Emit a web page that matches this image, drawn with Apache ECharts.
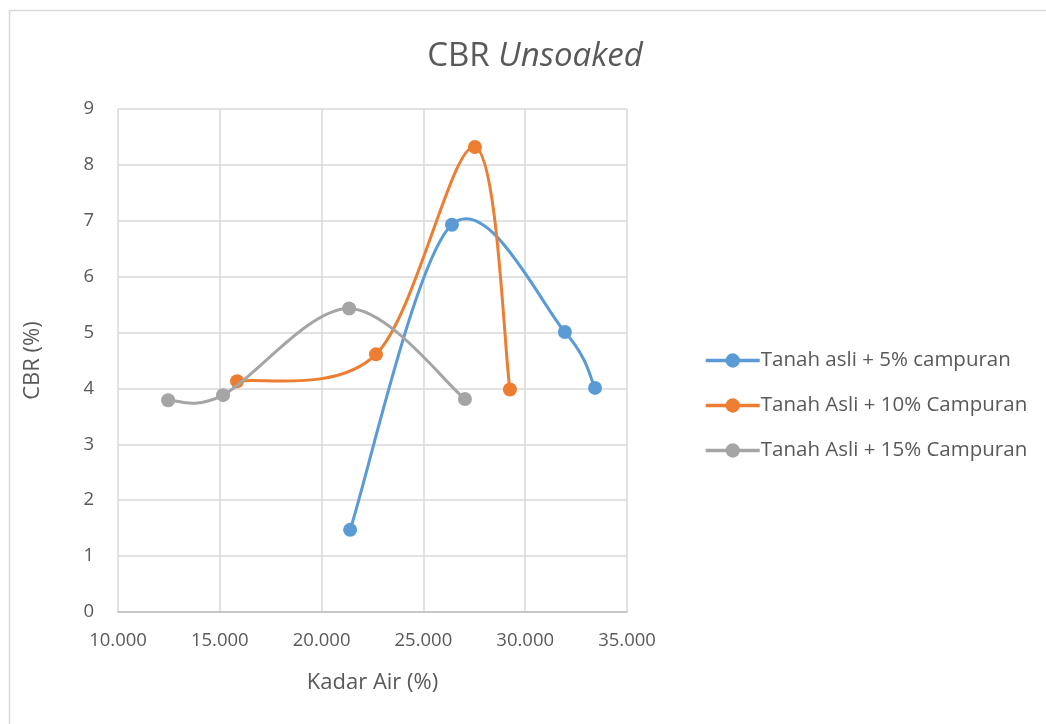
<!DOCTYPE html>
<html>
<head>
<meta charset="utf-8">
<script src="https://cdn.jsdelivr.net/npm/echarts@6/dist/echarts.min.js"></script>
<style>
  html, body { margin: 0; padding: 0; background: #fff; }
  #chart { width: 1046px; height: 724px; }
</style>
</head>
<body>
<div id="chart"></div>
<script>
// Kadar air (%) vs CBR (%) for each mix
const seriesNames = [
  'Tanah asli + 5% campuran',
  'Tanah Asli + 10% Campuran',
  'Tanah Asli + 15% Campuran'
];
const kadarAir5 = [21.4, 26.4, 31.95, 33.43];
const cbr5 = [1.47, 6.93, 5.01, 4.01];
const kadarAir10 = [15.85, 22.67, 27.53, 29.25];
const cbr10 = [4.13, 4.61, 8.32, 3.98];
const kadarAir15 = [12.46, 15.16, 21.35, 27.04];
const cbr15 = [3.79, 3.88, 5.43, 3.81];
const colors = ['#5B9BD5', '#ED7D31', '#A5A5A5'];

const pairs = (xs, ys) => xs.map((x, i) => [x, ys[i]]);
const dataSets = [pairs(kadarAir5, cbr5), pairs(kadarAir10, cbr10), pairs(kadarAir15, cbr15)];

const textColor = '#595959';
const font = '"Open Sans", "Noto Sans", sans-serif';

// Smoothed connecting curve (Catmull-Rom style Bezier segments), one segment per data item
function curveRenderer(data, color) {
  return function (params, api) {
    const i = params.dataIndex;
    if (i >= data.length - 1) return null;
    const p = data.map(d => api.coord(d));
    const p0 = p[Math.max(i - 1, 0)];
    const p1 = p[i];
    const p2 = p[i + 1];
    const p3 = p[Math.min(i + 2, p.length - 1)];
    const k = 1 / 6;
    return {
      type: 'bezierCurve',
      shape: {
        x1: p1[0], y1: p1[1],
        x2: p2[0], y2: p2[1],
        cpx1: p1[0] + (p2[0] - p0[0]) * k,
        cpy1: p1[1] + (p2[1] - p0[1]) * k,
        cpx2: p2[0] - (p3[0] - p1[0]) * k,
        cpy2: p2[1] - (p3[1] - p1[1]) * k
      },
      style: { stroke: color, lineWidth: 3, fill: 'none', lineCap: 'round' },
      silent: true
    };
  };
}

const markerSeries = dataSets.map((d, i) => ({
  name: seriesNames[i],
  type: 'line',
  data: d,
  symbol: 'circle',
  symbolSize: 14,
  lineStyle: { color: colors[i], width: 3, opacity: 0 },
  itemStyle: { color: colors[i] },
  z: 3 + i * 2
}));

const curveSeries = dataSets.map((d, i) => ({
  name: seriesNames[i],
  type: 'custom',
  data: d,
  encode: { x: 0, y: 1 },
  renderItem: curveRenderer(d, colors[i]),
  z: 2 + i * 2
}));

const chart = echarts.init(document.getElementById('chart'), null, { renderer: 'canvas' });
chart.setOption({
  animation: false,
  textStyle: { fontFamily: font, color: textColor },
  graphic: [{
    type: 'rect',
    shape: { x: 9.5, y: 10.5, width: 1100, height: 800 },
    style: { fill: 'none', stroke: '#d9d9d9', lineWidth: 1.5 },
    silent: true
  }],
  title: {
    text: '{n|CBR }{i|Unsoaked}',
    left: 530,
    top: 33,
    textAlign: 'center',
    textStyle: {
      fontWeight: 'normal',
      rich: {
        n: { fontSize: 33, lineHeight: 38, color: textColor, fontFamily: font, fontWeight: 'normal' },
        i: { fontSize: 33, lineHeight: 38, color: textColor, fontFamily: font, fontWeight: 'normal', fontStyle: 'italic' }
      }
    }
  },
  legend: {
    orient: 'vertical',
    left: 699,
    top: 344,
    itemGap: 22,
    itemWidth: 54,
    itemHeight: 18,
    textStyle: { fontSize: 20.5, lineHeight: 23, color: textColor, fontFamily: font, padding: [0, 0, 0, -4] },
    data: seriesNames.map((n, i) => ({
      name: n,
      itemStyle: { color: colors[i] },
      lineStyle: { color: colors[i], width: 3.5, opacity: 1 }
    }))
  },
  grid: { left: 118, right: 419, top: 109, bottom: 112 },
  xAxis: {
    type: 'value',
    min: 10,
    max: 35,
    interval: 5,
    name: 'Kadar Air (%)',
    nameLocation: 'middle',
    nameGap: 60,
    nameTextStyle: { fontSize: 22, color: textColor },
    axisLine: { show: true, lineStyle: { color: '#bfbfbf', width: 1.5 } },
    axisTick: { show: false },
    axisLabel: {
      fontSize: 18.5, color: textColor, margin: 19,
      formatter: v => v.toFixed(3)
    },
    splitLine: { show: true, lineStyle: { color: '#d9d9d9', width: 1.5 } }
  },
  yAxis: {
    type: 'value',
    min: 0,
    max: 9,
    interval: 1,
    name: 'CBR (%)',
    nameLocation: 'middle',
    nameGap: 74,
    nameTextStyle: { fontSize: 22, color: textColor },
    axisLine: { show: false },
    axisTick: { show: false },
    axisLabel: { fontSize: 18.5, color: textColor, margin: 24 },
    splitLine: { show: true, lineStyle: { color: '#d9d9d9', width: 1.5 } }
  },
  series: markerSeries.concat(curveSeries)
});
</script>
</body>
</html>
